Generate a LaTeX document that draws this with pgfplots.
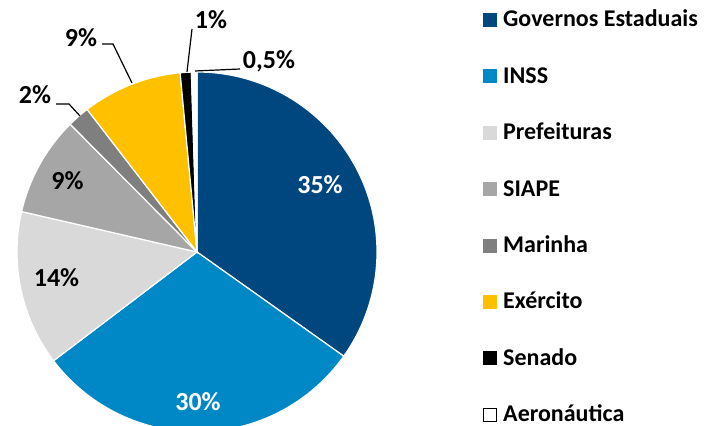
\documentclass[border=0pt]{standalone}
\usepackage{pgfplots}
\usepackage{pgfplotstable}
\usepackage{fontspec}
\setmainfont{Carlito}
\pgfplotsset{compat=1.18}
\definecolor{gov}{HTML}{00467F}
\definecolor{inss}{HTML}{0088C6}
\definecolor{pref}{HTML}{D9D9D9}
\definecolor{siape}{HTML}{A6A6A6}
\definecolor{mar}{HTML}{7F7F7F}
\definecolor{exe}{HTML}{FFC000}
\definecolor{sen}{HTML}{000000}
\definecolor{aer}{HTML}{FFFFFF}
\pgfplotstableread[col sep=comma]{
name,value,color
Governos Estaduais,35,gov
INSS,30,inss
Prefeituras,14,pref
SIAPE,9,siape
Marinha,2,mar
Exército,9,exe
Senado,1,sen
Aeronáutica,0.5,aer
}\piedata
\newcommand{\lbl}{\fontsize{26bp}{30bp}\selectfont\bfseries}
\newcommand{\leg}{\fontsize{24bp}{28bp}\selectfont\bfseries}
\begin{document}
\begin{tikzpicture}
\begin{axis}[
  width=706bp, height=426bp, scale only axis,
  xmin=0, xmax=706, ymin=0, ymax=426,
  hide axis, clip=true,
]
\addplot[draw=none] coordinates {(0,0) (706,426)};
\pgfplotsextra{
  \gdef\cum{0}
  \foreach \i in {0,...,7}{
    \pgfplotstablegetelem{\i}{value}\of\piedata \let\v\pgfplotsretval
    \pgfplotstablegetelem{\i}{color}\of\piedata \let\c\pgfplotsretval
    \pgfmathsetmacro\a{90-\cum/100.5*360}
    \pgfmathsetmacro\b{90-(\cum+\v)/100.5*360}
    \fill[fill=\c, draw=white, line width=1.2bp] (axis cs:197,174) -- ++(\a:180bp) arc[start angle=\a, end angle=\b, radius=180bp] -- cycle;
    \pgfmathsetmacro\n{\cum+\v}
    \xdef\cum{\n}
  }
  \node[anchor=base, text=white, font=\lbl] at (axis cs:320,232) {35\%};
  \node[anchor=base, text=white, font=\lbl] at (axis cs:198,16) {30\%};
  \node[anchor=base, font=\lbl] at (axis cs:56.5,139) {14\%};
  \node[anchor=base, font=\lbl] at (axis cs:67.5,236) {9\%};
  \node[anchor=base, font=\lbl] at (axis cs:35,322) {2\%};
  \node[anchor=base, font=\lbl] at (axis cs:81,379) {9\%};
  \node[anchor=base, font=\lbl] at (axis cs:211,397) {1\%};
  \node[anchor=base, font=\lbl] at (axis cs:269,357) {0,5\%};
  \draw[line width=1.2bp] (axis cs:56,322) -- (axis cs:69,322) -- (axis cs:80,310);
  \draw[line width=1.2bp] (axis cs:102,382) -- (axis cs:113,382) -- (axis cs:132,343);
  \draw[line width=1.2bp] (axis cs:192,397) -- (axis cs:187,354);
  \draw[line width=1.2bp] (axis cs:240,357) -- (axis cs:195,355);
  \foreach \i in {0,...,7}{
    \pgfplotstablegetelem{\i}{name}\of\piedata \let\nm\pgfplotsretval
    \pgfplotstablegetelem{\i}{color}\of\piedata \let\c\pgfplotsretval
    \pgfmathsetmacro\yb{426-27-56.4*\i}
    \pgfmathsetmacro\yt{426-13-56.4*\i}
    \ifnum\i=7
      \fill[fill=white, draw=black, line width=1bp] (axis cs:483.5,\yb+0.5) rectangle (axis cs:496.5,\yt-0.5);
    \else
      \fill[fill=\c] (axis cs:483,\yb) rectangle (axis cs:497,\yt);
    \fi
    \node[anchor=base west, font=\leg, inner sep=0pt] at (axis cs:503,\yb) {\nm};
  }
}
\end{axis}
\end{tikzpicture}
\end{document}
